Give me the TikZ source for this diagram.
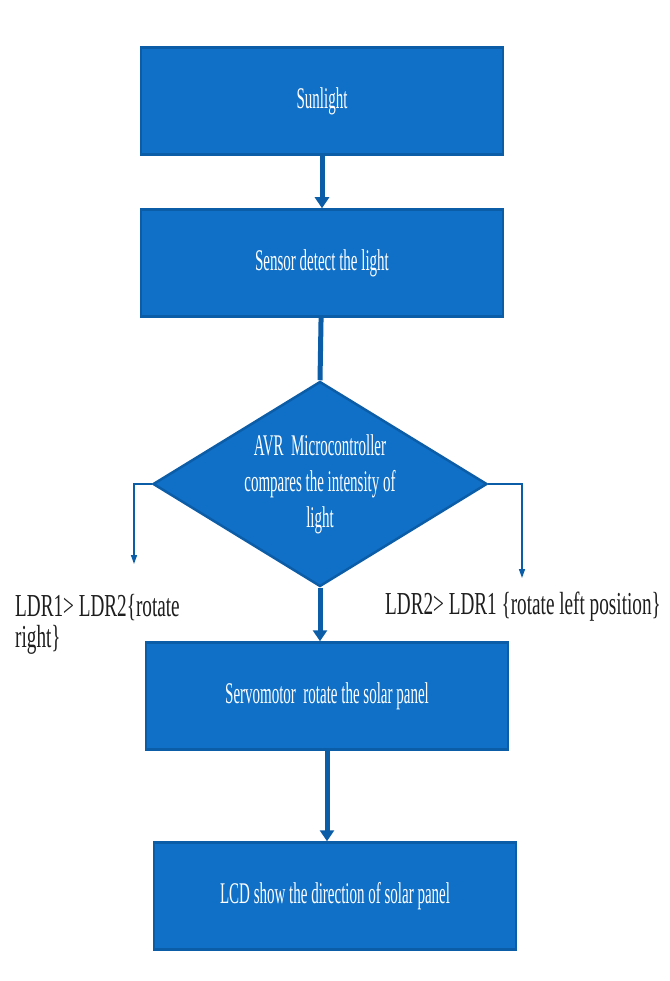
\documentclass[tikz,border=0pt]{standalone}
\usepackage{fontspec}
\setmainfont[FakeStretch=0.5]{Liberation Serif}
\newfontfamily\notefont[FakeStretch=0.6]{Liberation Serif}
\usepackage{tikz}
\usetikzlibrary{arrows.meta,shapes.geometric}
\definecolor{panelblue}{HTML}{1070C8}
\definecolor{edgeblue}{HTML}{0B5DA8}
\definecolor{inkgrey}{HTML}{1E1E1E}

\begin{document}
\begin{tikzpicture}[
  x=1pt, y=-1pt,
  box/.style={draw=edgeblue, line width=2.5pt, fill=panelblue, text=white,
              minimum width=362pt, minimum height=107pt, inner sep=0pt,
              font=\fontsize{30}{36}\selectfont},
  decision/.style={diamond, draw=edgeblue, line width=2.5pt, fill=panelblue,
              text=white, minimum width=334pt, minimum height=205pt,
              inner sep=0pt, align=center, shape aspect=1.63,
              font=\fontsize{30}{36}\selectfont},
  flow/.style={draw=edgeblue, line width=5pt,
               -{Triangle[width=14pt,length=11pt]}},
  branch/.style={draw=edgeblue, line width=1.5pt,
                 -{Triangle[width=6pt,length=9pt]}},
  note/.style={text=inkgrey, align=left, inner sep=0pt,
               font=\notefont\fontsize{32}{31}\selectfont}
]
\fill[white] (0,0) rectangle (669,981);

\node[box] (sun) at (322,101) {Sunlight};
\node[box] (sensor) at (322,263) {Sensor detect the light};
\node[decision] (avr) at (320,484)
   {AVR\ \ Microcontroller\\compares the intensity of\\light};
\node[box] (servo) at (327,696) {Servomotor\ \ rotate the solar panel};
\node[box] (lcd) at (335,896) {LCD show the direction of solar panel};

\node[note, anchor=north west] (right) at (15,594) {LDR1> LDR2\{rotate\\right\}};
\node[note, anchor=west] (left) at (385,607) {LDR2> LDR1 \{rotate left position\}};

\coordinate (lturn) at (134,484);
\coordinate (lend) at (134,564);
\coordinate (rturn) at (522,484);
\coordinate (rend) at (522,578);

\draw[flow] (sun) -- (sensor);
\draw[draw=edgeblue, line width=5pt] (sensor) -- (avr.north);
\draw[flow] (avr.south) -- (avr.south |- servo.north);
\draw[flow] (servo.south) -- (servo.south |- lcd.north);
\draw[branch] (avr.west) -- (lturn) -- (lend);
\draw[branch] (avr.east) -- (rturn) -- (rend);
\end{tikzpicture}
\end{document}
